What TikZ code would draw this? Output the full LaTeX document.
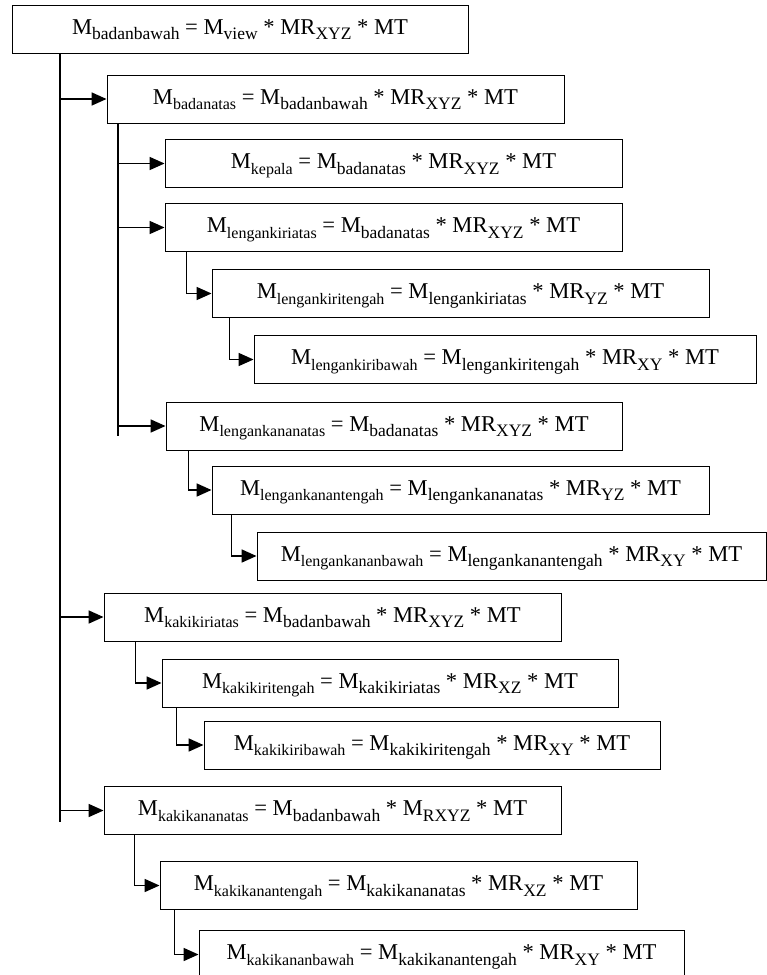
\documentclass[tikz,border=0pt]{standalone}
\usepackage{fontspec}
\setmainfont{Liberation Serif}
\usepackage{tikz}
\usetikzlibrary{arrows.meta,calc}
\definecolor{INK}{HTML}{000000}
\newcommand{\sbs}[1]{\raisebox{-5.5pt}{\fontsize{17.5}{17.5}\selectfont #1}}
\newcommand{\sbf}[1]{\raisebox{-5.5pt}{\fontsize{16}{16}\selectfont #1}}
\newcommand{\Mx}[1]{M\sbs{#1}}
\newcommand{\Mf}[1]{M\sbf{#1}}

\begin{document}
\begin{tikzpicture}[x=1pt,y=-1pt]
\tikzset{eq/.style={draw=INK,line width=0.9pt,minimum height=48pt,inner sep=0pt,text height=29pt,text depth=19pt,
 font=\fontsize{22.6}{26}\selectfont,text=INK},
 ln/.style={line width=1.7pt,INK},arr/.style={ln,-{Triangle[length=15pt,width=13pt]}}}
\useasboundingbox (0,0) rectangle (767,975);
% badan
\node[eq,minimum width=456pt] (bbawah) at (240,29) {\Mx{badanbawah} = \Mx{view} * MR\sbs{XYZ} * MT};
\node[eq,minimum width=457pt] (batas) at (335.5,99) {\Mf{badanatas} = \Mx{badanbawah} * MR\sbs{XYZ} * MT};
\node[eq,minimum width=457pt] (kepala) at (393.5,163.5) {\Mf{kepala} = \Mx{badanatas} * MR\sbs{XYZ} * MT};
% lengan kiri
\node[eq,minimum width=457pt] (lkiatas) at (393.5,227.5) {\Mf{lengankiriatas} = \Mx{badanatas} * MR\sbs{XYZ} * MT};
\node[eq,minimum width=497pt] (lkiteng) at (460.5,293.5) {\Mf{lengankiritengah} = \Mx{lengankiriatas} * MR\sbs{YZ} * MT};
\node[eq,minimum width=502pt] (lkibawah) at (505,359.5) {\Mf{lengankiribawah} = \Mx{lengankiritengah} * MR\sbs{XY} * MT};
% lengan kanan
\node[eq,minimum width=456pt] (lkaatas) at (394,426) {\Mf{lengankananatas} = \Mx{badanatas} * MR\sbs{XYZ} * MT};
\node[eq,minimum width=497pt] (lkateng) at (460.5,490) {\Mf{lengankanantengah} = \Mx{lengankananatas} * MR\sbs{YZ} * MT};
\node[eq,minimum width=509pt] (lkabawah) at (511.5,556) {\Mf{lengankananbawah} = \Mx{lengankanantengah} * MR\sbs{XY} * MT};
% kaki kiri
\node[eq,minimum width=457pt] (kkiatas) at (332.5,617) {\Mf{kakikiriatas} = \Mx{badanbawah} * MR\sbs{XYZ} * MT};
\node[eq,minimum width=456pt] (kkiteng) at (390,683) {\Mf{kakikiritengah} = \Mx{kakikiriatas} * MR\sbs{XZ} * MT};
\node[eq,minimum width=456pt] (kkibawah) at (432,745) {\Mf{kakikiribawah} = \Mx{kakikiritengah} * MR\sbs{XY} * MT};
% kaki kanan
\node[eq,minimum width=457pt] (kkaatas) at (332.5,810.5) {\Mf{kakikananatas} = \Mx{badanbawah} * \Mx{RXYZ} * MT};
\node[eq,minimum width=477pt] (kkateng) at (398.5,885.5) {\Mf{kakikanantengah} = \Mx{kakikananatas} * MR\sbs{XZ} * MT};
\node[eq,minimum width=485pt] (kkabawah) at (441.5,954.5) {\Mf{kakikananbawah} = \Mx{kakikanantengah} * MR\sbs{XY} * MT};
% garis
\coordinate (t0) at (60,822);
\coordinate (t1) at (118,436);
\draw[ln] (bbawah.south -| t0) -- (t0);
\draw[ln] (batas.south -| t1) -- (t1);
\draw[arr] (batas.west -| t0) -- (batas.west);
\draw[arr] (kkiatas.west -| t0) -- (kkiatas.west);
\draw[arr] (kkaatas.west -| t0) -- (kkaatas.west);
\draw[arr] (kepala.west -| t1) -- (kepala.west);
\draw[arr] (lkiatas.west -| t1) -- (lkiatas.west);
\draw[arr] (lkaatas.west -| t1) -- (lkaatas.west);
\draw[arr] ([xshift=22pt]lkiatas.south west) |- (lkiteng.west);
\draw[arr] ([xshift=18pt]lkiteng.south west) |- (lkibawah.west);
\draw[arr] ([xshift=23pt]lkaatas.south west) |- (lkateng.west);
\draw[arr] ([xshift=20pt]lkateng.south west) |- (lkabawah.west);
\draw[arr] ([xshift=32pt]kkiatas.south west) |- (kkiteng.west);
\draw[arr] ([xshift=15pt]kkiteng.south west) |- (kkibawah.west);
\draw[arr] ([xshift=31pt]kkaatas.south west) |- (kkateng.west);
\draw[arr] ([xshift=15pt]kkateng.south west) |- (kkabawah.west);
\end{tikzpicture}
\end{document}
